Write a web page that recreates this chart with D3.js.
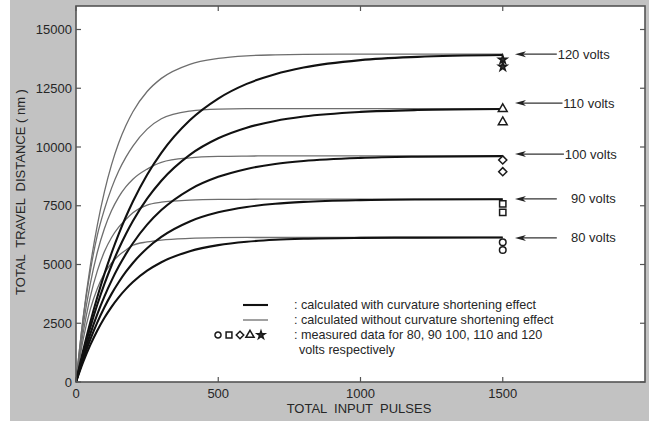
<!DOCTYPE html>
<html>
<head>
<meta charset="utf-8">
<script src="https://cdn.jsdelivr.net/npm/d3@7"></script>
<style>
  body { margin: 0; background: #fff; }
  text { font-family: "Liberation Sans", Arial, sans-serif; fill: #262626; }
</style>
</head>
<body>
<svg id="chart" width="649" height="421"></svg>
<script>
var pulses = [0, 25, 50, 75, 100, 125, 150, 175, 200, 250, 300, 400, 500, 600, 700, 800, 1000, 1200, 1500];

// calculated without curvature shortening effect (thin grey)
var thin80  = [0, 1800, 3080, 3980, 4620, 5065, 5385, 5610, 5820, 5960, 6040, 6110, 6140, 6150, 6150, 6150, 6150, 6150, 6150];
var thin90  = [0, 2085, 3615, 4730, 5550, 6150, 6590, 6910, 7200, 7530, 7650, 7740, 7770, 7775, 7780, 7780, 7780, 7780, 7780];
var thin100 = [0, 2380, 4165, 5520, 6530, 7295, 7870, 8300, 8630, 9060, 9350, 9540, 9600, 9615, 9620, 9620, 9620, 9620, 9620];
var thin110 = [0, 2700, 4700, 6250, 7350, 8250, 8980, 9560, 10040, 10760, 11200, 11530, 11615, 11630, 11630, 11630, 11630, 11630, 11630];
var thin120 = [0, 2720, 4920, 6680, 8100, 9250, 10170, 10900, 11500, 12360, 12920, 13520, 13770, 13880, 13920, 13940, 13950, 13950, 13950];

// calculated with curvature shortening effect (thick black)
var thick80  = [0, 841, 1567, 2193, 2735, 3200, 3603, 3953, 4253, 4736, 5097, 5565, 5825, 5970, 6050, 6095, 6133, 6145, 6150];
var thick90  = [0, 960, 1800, 2537, 3180, 3750, 4245, 4683, 5065, 5695, 6175, 6832, 7220, 7450, 7585, 7665, 7740, 7766, 7777];
var thick100 = [0, 1080, 2040, 2890, 3645, 4315, 4910, 5440, 5905, 6695, 7315, 8190, 8730, 9068, 9277, 9407, 9538, 9588, 9613];
var thick110 = [0, 1222, 2313, 3297, 4172, 4957, 5660, 6287, 6850, 7800, 8565, 9665, 10370, 10822, 11110, 11297, 11493, 11574, 11615];
var thick120 = [0, 1327, 2530, 3615, 4600, 5490, 6295, 7020, 7680, 8820, 9750, 11135, 12060, 12685, 13100, 13380, 13695, 13835, 13915];

// measured data, all at 1500 pulses
var measuredPulse = 1500;
var measured80  = [5950, 5620];
var measured90  = [7580, 7220];
var measured100 = [9450, 8950];
var measured110 = [11620, 11060];
var measured120 = [13720, 13420];

var voltLabels = ["80 volts", "90 volts", "100 volts", "110 volts", "120 volts"];
var arrowLevels = [6130, 7790, 9700, 11870, 13950];

var xTicks = [0, 500, 1000, 1500];
var yTicks = [0, 2500, 5000, 7500, 10000, 12500, 15000];

var svg = d3.select("#chart");

var plotLeft = 76, plotRight = 645, plotTop = 6, plotBottom = 382,
    tickLen = 5,
    frameColor = "#545454";

var x = d3.scaleLinear().domain([0, 2000]).range([plotLeft, plotRight]);
var y = d3.scaleLinear().domain([0, 16000]).range([plotBottom, plotTop]);

// grey figure background with the white page strip on the left
svg.append("rect").attr("x", 10).attr("y", 0).attr("width", 639).attr("height", 421).attr("fill", "#c2c2c2");
svg.append("rect").attr("x", plotLeft).attr("y", plotTop)
    .attr("width", plotRight - plotLeft).attr("height", plotBottom - plotTop).attr("fill", "#fff");

var line = d3.line()
    .x(function (d) { return x(d[0]); })
    .y(function (d) { return y(d[1]); })
    .curve(d3.curveMonotoneX);

function pairs(vals) {
    return pulses.map(function (p, i) { return [p, vals[i]]; });
}

var plot = svg.append("g");

[thin80, thin90, thin100, thin110, thin120].forEach(function (s) {
    plot.append("path").attr("d", line(pairs(s)))
        .attr("fill", "none").attr("stroke", "#6e6e6e").attr("stroke-width", 1.3);
});
[thick80, thick90, thick100, thick110, thick120].forEach(function (s) {
    plot.append("path").attr("d", line(pairs(s)))
        .attr("fill", "none").attr("stroke", "#111").attr("stroke-width", 2.1);
});

// marker shapes per voltage
var shapes = [
    { type: d3.symbolCircle, size: 34, fill: "#fff" },
    { type: d3.symbolSquare, size: 40, fill: "#fff" },
    { type: d3.symbolDiamond2, size: 42, fill: "#fff" },
    { type: d3.symbolTriangle, size: 34, fill: "#fff" },
    { type: d3.symbolStar, size: 22, fill: "#333" }
];
var measured = [measured80, measured90, measured100, measured110, measured120];

measured.forEach(function (vals, i) {
    vals.forEach(function (v) {
        plot.append("path")
            .attr("d", d3.symbol().type(shapes[i].type).size(shapes[i].size)())
            .attr("transform", "translate(" + x(measuredPulse) + "," + y(v) + ")")
            .attr("fill", shapes[i].fill).attr("stroke", "#1a1a1a").attr("stroke-width", 1.5);
    });
});

// arrows with voltage labels
var arrowStart = 1543, arrowEnd = [1690, 1690, 1715, 1710, 1690], labelStart = [1740, 1740, 1718, 1713, 1693];
arrowLevels.forEach(function (v, i) {
    var ay = y(v), ax = x(arrowStart);
    plot.append("line")
        .attr("x1", ax + 6).attr("x2", x(arrowEnd[i]))
        .attr("y1", ay).attr("y2", ay)
        .attr("stroke", "#333").attr("stroke-width", 1.2);
    plot.append("path")
        .attr("d", "M" + ax + "," + ay + "L" + (ax + 11) + "," + (ay - 3) + "L" + (ax + 8) + "," + ay + "L" + (ax + 11) + "," + (ay + 3) + "Z")
        .attr("fill", "#222");
    plot.append("text")
        .attr("x", x(labelStart[i])).attr("y", ay)
        .attr("dy", "0.35em")
        .attr("font-size", 13)
        .text(voltLabels[i]);
});

// frame and inward ticks on all four sides
svg.append("rect").attr("x", plotLeft).attr("y", plotTop)
    .attr("width", plotRight - plotLeft).attr("height", plotBottom - plotTop)
    .attr("fill", "none").attr("stroke", frameColor).attr("stroke-width", 1.6);

var ticks = svg.append("g").attr("stroke", frameColor).attr("stroke-width", 1.2);
xTicks.forEach(function (t) {
    ticks.append("line").attr("x1", x(t)).attr("x2", x(t)).attr("y1", plotBottom).attr("y2", plotBottom - tickLen);
    ticks.append("line").attr("x1", x(t)).attr("x2", x(t)).attr("y1", plotTop).attr("y2", plotTop + tickLen);
});
yTicks.forEach(function (t) {
    ticks.append("line").attr("x1", plotLeft).attr("x2", plotLeft + tickLen).attr("y1", y(t)).attr("y2", y(t));
    ticks.append("line").attr("x1", plotRight).attr("x2", plotRight - tickLen).attr("y1", y(t)).attr("y2", y(t));
});

svg.append("g").selectAll("text").data(xTicks).join("text")
    .attr("x", function (d) { return x(d); })
    .attr("y", plotBottom + 11)
    .attr("dy", "0.35em")
    .attr("text-anchor", "middle")
    .attr("font-size", 13)
    .text(function (d) { return d; });

svg.append("g").selectAll("text").data(yTicks).join("text")
    .attr("x", plotLeft - 4)
    .attr("y", function (d) { return y(d); })
    .attr("dy", "0.35em")
    .attr("text-anchor", "end")
    .attr("font-size", 13)
    .text(function (d) { return d; });

svg.append("text")
    .attr("x", 359).attr("y", 408)
    .attr("dy", "0.35em")
    .attr("text-anchor", "middle")
    .attr("font-size", 13)
    .style("white-space", "pre")
    .text("TOTAL  INPUT  PULSES");

svg.append("text")
    .attr("transform", "translate(20,192) rotate(-90)")
    .attr("dy", "0.35em")
    .attr("text-anchor", "middle")
    .attr("font-size", 13)
    .style("white-space", "pre")
    .text("TOTAL  TRAVEL  DISTANCE ( nm )");

// legend
var legend = svg.append("g");
legend.append("line").attr("x1", 243).attr("x2", 268).attr("y1", 305).attr("y2", 305)
    .attr("stroke", "#111").attr("stroke-width", 2.1);
legend.append("line").attr("x1", 243).attr("x2", 268).attr("y1", 320).attr("y2", 320)
    .attr("stroke", "#6e6e6e").attr("stroke-width", 1.3);
var legendX = [218, 229, 240, 250, 261];
shapes.forEach(function (s, i) {
    legend.append("path")
        .attr("d", d3.symbol().type(s.type).size(s.size * 0.85)())
        .attr("transform", "translate(" + legendX[i] + ",335)")
        .attr("fill", s.fill).attr("stroke", "#1a1a1a").attr("stroke-width", 1.5);
});
var legendRows = [
    [294, 305, ": calculated with curvature shortening effect"],
    [294, 320, ": calculated without curvature shortening effect"],
    [294, 335, ": measured data for 80, 90 100, 110 and 120"],
    [299, 350, "volts respectively"]
];
legendRows.forEach(function (r) {
    legend.append("text").attr("x", r[0]).attr("y", r[1]).attr("dy", "0.35em")
        .attr("font-size", 12.6).text(r[2]);
});
</script>
</body>
</html>
